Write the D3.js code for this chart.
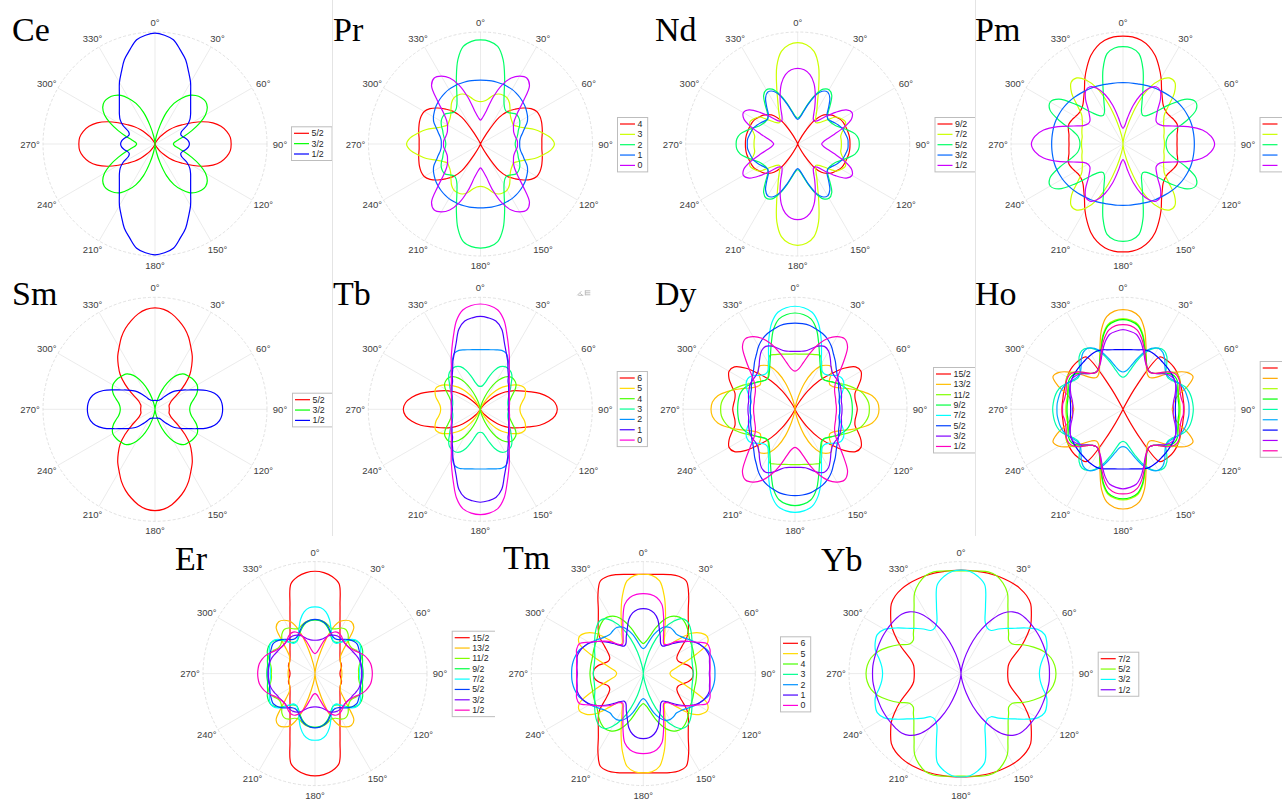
<!DOCTYPE html>
<html><head><meta charset="utf-8">
<script src="https://cdn.jsdelivr.net/npm/d3@7"></script>
<style>body{margin:0;background:#fff}svg{display:block}</style>
</head><body>
<svg id="chart" width="1282" height="801"></svg>
<script>
// sampled polar angles (deg, clockwise from top) for the first quadrant; curves are mirror-symmetric
const angles = [0,5,10,15,20,25,30,35,40,45,50,55,60,65,70,75,80,85,90];
const thetaTicks = [0,30,60,90,120,150,180,210,240,270,300,330];

// ---- Ce ----
const ceLabels = ["5/2","3/2","1/2"];
const ceR = [
 [0,0,0,0,.01,.02,.04,.08,.12,.18,.24,.30,.38,.47,.55,.61,.65,.675,.68],
 [0,.02,.075,.17,.30,.40,.47,.53,.565,.585,.59,.57,.52,.44,.35,.27,.21,.175,.164],
 [.99,.975,.945,.87,.80,.71,.635,.555,.495,.45,.415,.38,.33,.26,.245,.255,.28,.30,.307]
];
// ---- Pr ----
const prLabels = ["4","3","2","1","0"];
const prR = [
 [0,0,0,0,.01,.02,.10,.29,.38,.44,.50,.55,.58,.585,.58,.57,.56,.55,.548],
 [.378,.385,.41,.45,.475,.48,.475,.45,.41,.375,.355,.345,.34,.37,.42,.50,.565,.63,.66],
 [.929,.92,.885,.78,.63,.50,.42,.38,.37,.39,.415,.415,.405,.385,.36,.345,.33,.315,.31],
 [.571,.571,.572,.571,.57,.567,.563,.555,.545,.533,.52,.503,.485,.46,.42,.39,.365,.352,.35],
 [.214,.24,.30,.43,.56,.65,.70,.72,.68,.54,.43,.37,.34,.325,.315,.315,.32,.33,.33]
];
// ---- Nd ----
const ndLabels = ["9/2","7/2","5/2","3/2","1/2"];
const ndR = [
 [0,0,0,0,.01,.04,.12,.25,.33,.37,.40,.42,.44,.45,.455,.46,.465,.467,.467],
 [.905,.89,.84,.72,.55,.42,.34,.28,.25,.27,.33,.42,.45,.47,.45,.41,.39,.39,.39],
 [.23,.25,.30,.38,.47,.54,.56,.53,.45,.38,.35,.35,.36,.38,.42,.47,.52,.545,.55],
 [.22,.24,.29,.37,.46,.52,.535,.50,.43,.37,.35,.36,.38,.40,.42,.43,.44,.45,.45],
 [.676,.665,.63,.56,.46,.36,.28,.25,.27,.34,.44,.53,.56,.53,.44,.34,.27,.23,.214]
];
// ---- Pm ----
const pmLabels = ["4","3","2","1","0"];
const pmR = [
 [.964,.96,.94,.90,.84,.76,.68,.60,.545,.505,.485,.48,.49,.505,.515,.505,.49,.485,.482],
 [0,.02,.08,.20,.38,.55,.66,.72,.72,.65,.53,.45,.42,.40,.39,.38,.37,.37,.37],
 [.869,.86,.82,.69,.52,.40,.33,.31,.33,.40,.55,.70,.75,.72,.60,.47,.41,.39,.384],
 [.548,.549,.55,.553,.56,.567,.575,.582,.59,.60,.61,.618,.625,.63,.635,.637,.637,.637,.637],
 [.14,.16,.24,.36,.47,.55,.59,.58,.52,.44,.39,.36,.36,.39,.47,.60,.72,.79,.818]
];
// ---- Sm ----
const smLabels = ["5/2","3/2","1/2"];
const smR = [
 [.905,.895,.865,.82,.77,.71,.64,.58,.51,.44,.35,.26,.19,.155,.14,.13,.128,.128,.128],
 [0,.01,.04,.10,.18,.26,.33,.38,.41,.42,.43,.435,.435,.42,.395,.36,.33,.315,.31],
 [.08,.08,.08,.08,.085,.09,.10,.13,.17,.22,.26,.30,.345,.41,.49,.55,.585,.60,.604]
];
// ---- Tb ----
const tbLabels = ["6","5","4","3","2","1","0"];
const tbR = [
 [0,0,0,0,0,0,.01,.03,.07,.13,.20,.27,.33,.39,.46,.55,.62,.67,.6875],
 [0,0,0,0,.01,.03,.08,.15,.22,.28,.33,.38,.42,.44,.43,.41,.38,.36,.354],
 [0,0,.02,.06,.12,.20,.28,.34,.38,.40,.40,.39,.36,.32,.29,.27,.26,.255,.25],
 [.205,.21,.24,.30,.37,.42,.44,.44,.43,.40,.36,.33,.30,.28,.265,.255,.25,.25,.25],
 [.533,.535,.54,.55,.56,.55,.50,.45,.40,.36,.335,.31,.295,.28,.27,.265,.26,.258,.256],
 [.83,.82,.80,.74,.63,.55,.49,.43,.39,.35,.33,.31,.295,.28,.27,.265,.26,.255,.25],
 [.94,.93,.90,.82,.70,.60,.52,.45,.405,.365,.34,.32,.30,.285,.275,.27,.265,.26,.26]
];
// ---- Dy ----
const dyLabels = ["15/2","13/2","11/2","9/2","7/2","5/2","3/2","1/2"];
const dyR = [
 [0,0,0,0,.005,.02,.07,.20,.33,.44,.57,.66,.68,.65,.60,.555,.545,.55,.556],
 [0,.01,.04,.12,.25,.36,.44,.48,.50,.46,.40,.38,.40,.45,.53,.62,.70,.74,.75],
 [.494,.495,.50,.51,.52,.53,.476,.415,.375,.37,.39,.42,.46,.51,.56,.61,.64,.66,.664],
 [.86,.85,.82,.74,.62,.52,.45,.40,.37,.37,.39,.42,.45,.48,.50,.51,.512,.512,.512],
 [.92,.91,.88,.80,.68,.56,.47,.42,.41,.43,.47,.50,.50,.48,.45,.42,.40,.40,.40],
 [.77,.768,.76,.74,.72,.69,.65,.60,.56,.52,.49,.47,.45,.43,.42,.41,.40,.40,.40],
 [.518,.52,.53,.56,.60,.62,.60,.55,.50,.47,.46,.46,.46,.45,.44,.43,.42,.42,.42],
 [.34,.36,.42,.52,.62,.70,.75,.77,.73,.62,.52,.45,.41,.39,.38,.375,.37,.37,.37]
];
// ---- Ho ----
const hoLabels = ["8","7","6","5","4","3","2","1","0"];
const hoR = [
 [0,0,0,0,0,.02,.25,.57,.585,.59,.59,.585,.575,.565,.555,.55,.545,.545,.545],
 [.89,.88,.84,.74,.60,.49,.42,.38,.37,.40,.48,.58,.66,.69,.62,.52,.47,.45,.44],
 [.81,.80,.77,.69,.58,.49,.43,.41,.42,.46,.52,.57,.58,.56,.53,.51,.51,.51,.51],
 [.80,.79,.76,.68,.57,.49,.43,.41,.42,.45,.50,.54,.55,.54,.52,.51,.50,.50,.50],
 [.286,.30,.35,.43,.52,.59,.63,.64,.61,.55,.50,.49,.51,.55,.59,.61,.62,.625,.628],
 [.333,.345,.39,.46,.54,.60,.63,.62,.58,.53,.50,.50,.52,.55,.57,.58,.585,.59,.59],
 [.533,.535,.54,.55,.565,.57,.565,.558,.55,.545,.54,.535,.53,.52,.505,.49,.478,.47,.467],
 [.711,.70,.68,.62,.54,.47,.43,.41,.42,.45,.49,.52,.53,.52,.50,.48,.46,.45,.45],
 [.756,.75,.72,.65,.56,.48,.43,.41,.42,.46,.52,.56,.57,.56,.54,.53,.53,.54,.54]
];
// ---- Er ----
const erLabels = ["15/2","13/2","11/2","9/2","7/2","5/2","3/2","1/2"];
const erR = [
 [.914,.905,.88,.83,.653,.528,.446,.389,.347,.316,.291,.272,.258,.25,.25,.245,.235,.226,.223],
 [0,.02,.09,.22,.40,.51,.55,.565,.54,.42,.33,.28,.26,.25,.245,.24,.24,.24,.24],
 [.48,.48,.47,.45,.43,.44,.47,.48,.46,.42,.40,.40,.42,.44,.44,.42,.40,.39,.39],
 [.48,.475,.46,.43,.39,.35,.33,.34,.37,.42,.46,.48,.48,.47,.45,.44,.43,.43,.43],
 [.595,.59,.56,.50,.42,.36,.33,.33,.37,.43,.47,.48,.47,.45,.43,.42,.41,.40,.40],
 [.485,.48,.465,.44,.40,.37,.36,.37,.40,.43,.45,.46,.45,.44,.43,.42,.42,.42,.42],
 [.298,.30,.31,.33,.36,.38,.39,.39,.385,.38,.38,.385,.39,.40,.41,.415,.417,.417,.417],
 [.179,.19,.23,.30,.37,.41,.42,.41,.39,.38,.38,.39,.41,.44,.47,.49,.505,.51,.512]
];
// ---- Tm ----
const tmLabels = ["6","5","4","3","2","1","0"];
const tmR = [
 [.887,.89,.90,.915,.925,.91,.81,.70,.625,.57,.51,.42,.36,.33,.33,.36,.41,.44,.446],
 [.887,.88,.84,.72,.58,.46,.38,.33,.33,.42,.56,.63,.66,.63,.50,.38,.30,.25,.238],
 [.268,.29,.34,.42,.50,.56,.59,.60,.585,.56,.53,.51,.50,.49,.48,.475,.475,.475,.476],
 [0,.02,.08,.20,.33,.45,.54,.60,.61,.59,.56,.53,.50,.48,.46,.45,.445,.445,.446],
 [.223,.24,.29,.36,.42,.46,.475,.47,.46,.47,.49,.52,.55,.58,.61,.625,.635,.64,.64],
 [.58,.575,.55,.50,.42,.36,.31,.30,.33,.38,.44,.50,.55,.58,.60,.61,.60,.595,.59],
 [.714,.71,.69,.64,.53,.43,.36,.32,.34,.40,.45,.50,.56,.63,.634,.616,.605,.598,.595]
];
// ---- Yb ----
const ybLabels = ["7/2","5/2","3/2","1/2"];
const ybR = [
 [.923,.924,.925,.928,.93,.93,.93,.924,.91,.88,.82,.76,.68,.60,.52,.46,.43,.42,.417],
 [.916,.92,.93,.94,.93,.89,.83,.73,.655,.595,.555,.52,.53,.61,.69,.765,.815,.84,.848],
 [.923,.915,.88,.82,.64,.51,.47,.47,.52,.57,.63,.71,.79,.825,.815,.79,.74,.71,.70],
 [0,.02,.08,.18,.31,.44,.56,.66,.72,.75,.76,.765,.77,.775,.777,.78,.785,.79,.79]
];

// ---------- layout (positions only) ----------
const panels = [
 {name:"Ce", labels:ceLabels, data:ceR, cx:155,   cy:144,   tx:12,  ty:41,  lx:291,   ly:133.3, clip:[0,332]},
 {name:"Pr", labels:prLabels, data:prR, cx:480.5, cy:144,   tx:333, ty:41,  lx:617,   ly:124,   clip:[332,650], edge:332},
 {name:"Nd", labels:ndLabels, data:ndR, cx:797.7, cy:144,   tx:655, ty:41,  lx:934.5, ly:124,   clip:[650,975]},
 {name:"Pm", labels:pmLabels, data:pmR, cx:1123,  cy:144,   tx:975, ty:41,  lx:1259.5,ly:124,   clip:[975,1282], edge:975, noText:true},
 {name:"Sm", labels:smLabels, data:smR, cx:155,   cy:409.3, tx:12,  ty:305, lx:292,   ly:399.7, clip:[0,332]},
 {name:"Tb", labels:tbLabels, data:tbR, cx:480.3, cy:409.3, tx:333, ty:305, lx:616.7, ly:378,   clip:[332,650], edge:332, tools:true},
 {name:"Dy", labels:dyLabels, data:dyR, cx:795,   cy:409.3, tx:655, ty:305, lx:933,   ly:374,   clip:[650,975]},
 {name:"Ho", labels:hoLabels, data:hoR, cx:1123,  cy:409.3, tx:975, ty:305, lx:1259.7,ly:368,   clip:[975,1282], edge:975, noText:true},
 {name:"Er", labels:erLabels, data:erR, cx:315,   cy:673.6, tx:175, ty:570, lx:451.7, ly:637.7, clip:[0,495]},
 {name:"Tm", labels:tmLabels, data:tmR, cx:643.3, cy:673.6, tx:503, ty:569, lx:780,   ly:643.3, clip:[495,812]},
 {name:"Yb", labels:ybLabels, data:ybR, cx:961,   cy:673.6, tx:821, ty:571, lx:1097.7,ly:658.7, clip:[812,1282]}
];
const rowOf = p => p.cy < 200 ? [0,270] : (p.cy < 500 ? [270,536] : [536,801]);

const RMAX = 112;
const rScale = d3.scaleLinear().domain([0,1]).range([0,RMAX]);
const svg = d3.select("#chart");
const defs = svg.append("defs");

function hsvColors(n){
  return d3.range(n).map(i => {
    const h = i/n*6, k = Math.floor(h), f = h-k;
    const v=1, p=0, q=1-f, t=f;
    const rgb = [[v,t,p],[q,v,p],[p,v,t],[p,q,v],[t,p,v],[v,p,q]][k%6];
    return d3.rgb(rgb[0]*255, rgb[1]*255, rgb[2]*255).formatHex();
  });
}
function fullCurve(vals){
  const pts=[];
  angles.forEach((a,i)=>pts.push([a, vals[i]]));
  for(let i=angles.length-2;i>=0;i--) pts.push([180-angles[i], vals[i]]);
  for(let i=1;i<angles.length;i++) pts.push([180+angles[i], vals[i]]);
  for(let i=angles.length-2;i>=1;i--) pts.push([360-angles[i], vals[i]]);
  return pts;
}
const line = d3.lineRadial()
  .angle(d => d[0]*Math.PI/180)
  .radius(d => rScale(d[1]))
  .curve(d3.curveCatmullRomClosed.alpha(0.5));

panels.forEach((p, pi) => {
  const [y0,y1] = rowOf(p);
  const cid = "clip"+pi;
  defs.append("clipPath").attr("id",cid).append("rect")
    .attr("x",p.clip[0]).attr("y",y0).attr("width",p.clip[1]-p.clip[0]).attr("height",y1-y0);
  const g = svg.append("g").attr("clip-path",`url(#${cid})`);
  g.append("rect").attr("x",p.clip[0]).attr("y",y0).attr("width",p.clip[1]-p.clip[0]).attr("height",y1-y0).attr("fill","#fff");
  if (p.edge) g.append("line").attr("x1",p.edge+0.5).attr("x2",p.edge+0.5).attr("y1",y0).attr("y2",y1).attr("stroke","#e4e4e4");

  const pg = g.append("g").attr("transform",`translate(${p.cx},${p.cy})`);
  pg.selectAll("line.spoke").data(thetaTicks).join("line")
    .attr("x1",0).attr("y1",0)
    .attr("x2",d=>rScale(1)*Math.sin(d*Math.PI/180))
    .attr("y2",d=>-rScale(1)*Math.cos(d*Math.PI/180))
    .attr("stroke","#e6e6e6").attr("stroke-width",0.8);
  pg.append("circle").attr("r",rScale(1)).attr("fill","none")
    .attr("stroke","#d9d9d9").attr("stroke-width",0.8).attr("stroke-dasharray","3,2");
  pg.selectAll("text.tick").data(thetaTicks).join("text")
    .attr("x",d=>(RMAX+13)*Math.sin(d*Math.PI/180))
    .attr("y",d=>-(RMAX+9.5)*Math.cos(d*Math.PI/180))
    .attr("text-anchor","middle").attr("dominant-baseline","central")
    .attr("font-family","Liberation Sans, Arial, sans-serif").attr("font-size",9.5).attr("fill","#404040")
    .text(d=>d+"°");
  const cols = hsvColors(p.data.length);
  pg.selectAll("path.curve").data(p.data).join("path")
    .attr("d",d=>line(fullCurve(d)))
    .attr("fill","none").attr("stroke",(d,i)=>cols[i]).attr("stroke-width",1.2);
  g.append("text").attr("x",p.tx).attr("y",p.ty)
    .attr("font-family","Liberation Serif, Times New Roman, serif").attr("font-size",34).attr("fill","#000")
    .text(p.name);
  if (p.tools) {
    const tg = g.append("g").attr("transform",`translate(${p.cx+97},${p.cy-119})`).attr("fill","none").attr("stroke","#b5b5b5").attr("stroke-width",0.9);
    tg.append("path").attr("d","M0,5 L4,1 M1,5 L6,5 M3,3 L5,5");
    tg.append("path").attr("d","M8,0.5 L13,0.5 M8,2.5 L13,2.5 M8,4.5 L13,4.5 M8,0 L8,5");
  }
  const n = p.labels.length, sp = 10.35;
  const lg = g.append("g");
  const maxLen = d3.max(p.labels, s=>s.length);
  const w = 22 + maxLen*5.2 + 3;
  lg.append("rect").attr("x",p.lx+0.5).attr("y",p.ly-6.5).attr("width",w).attr("height",(n-1)*sp+13)
    .attr("fill","#fff").attr("stroke","#bdbdbd").attr("stroke-width",1);
  p.labels.forEach((lab,i)=>{
    const yy = p.ly + i*sp;
    lg.append("line").attr("x1",p.lx+3).attr("x2",p.lx+18).attr("y1",yy).attr("y2",yy)
      .attr("stroke",cols[i]).attr("stroke-width",1.2);
    if (!p.noText)
      lg.append("text").attr("x",p.lx+20.5).attr("y",yy).attr("dominant-baseline","central")
        .attr("font-family","Liberation Sans, Arial, sans-serif").attr("font-size",8.8).attr("fill","#262626").text(lab);
  });
});
</script>
</body></html>
